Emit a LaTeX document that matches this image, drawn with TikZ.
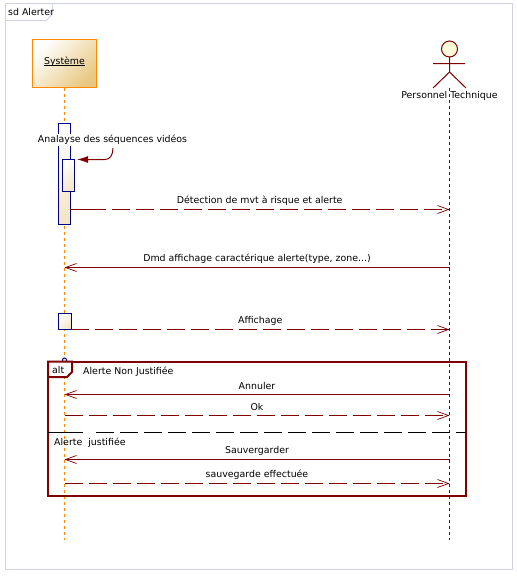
\documentclass[tikz,border=0pt]{standalone}
\usepackage{fontspec}
\setmainfont{DejaVu Sans}
\usepackage{tikz}
\usetikzlibrary{arrows.meta,calc}
\definecolor{msgred}{RGB}{128,0,0}
\definecolor{framelilac}{RGB}{208,208,232}
\definecolor{lifeorange}{RGB}{255,136,0}
\definecolor{actblue}{RGB}{0,0,128}
\definecolor{sandtan}{RGB}{232,200,130}
\tikzset{
  lbl/.style={font=\fontsize{9.4}{10}\selectfont, inner sep=0pt},
  msg/.style={draw=msgred, line width=1pt, -{Straight Barb[length=11pt,width=8pt,line width=.7pt]}},
  retmsg/.style={msg, dash pattern=on 18pt off 6pt},
  actbar/.style={draw=actblue, line width=1pt, top color=white, bottom color=sandtan!45, shading angle=45, minimum width=12pt, inner sep=0pt, outer sep=0pt},
}
\begin{document}
\begin{tikzpicture}[x=1pt, y=-1pt]
    \useasboundingbox (0,0) rectangle (517,576);
    % outer frame
    \draw[framelilac, line width=1pt] (5.5,3.5) rectangle (512.5,569.5);
    \draw[framelilac, line width=.8pt, fill=white] (5.5,3.5) -- (52.5,3.5) -- (52.5,14) -- (46,20.5) -- (5.5,20.5) -- cycle;
    \node[lbl, anchor=west] (sd) at (8,12) {sd Alerter};

    % lifelines
    \node[draw=lifeorange, line width=1pt, top color=white, bottom color=sandtan, shading angle=45, minimum width=64pt, minimum height=48pt, inner sep=0pt, outer sep=0pt, lbl] (sys) at (64.5,63.5) {\raisebox{-3pt}{\underline{\smash{Système}}}};
    \coordinate (sysend) at (64.5,540);
    \draw[lifeorange, line width=1pt, dash pattern=on 3pt off 3pt] (sys) -- (sysend);

    \node[circle, draw=msgred, line width=1pt, fill=yellow!15, minimum size=16pt, inner sep=0pt, outer sep=0pt] (head) at (449.5,49) {};
    \coordinate (armL) at (433,63.5); \coordinate (armR) at (465,63.5);
    \coordinate (hip) at (449.5,72); \coordinate (legL) at (433,88); \coordinate (legR) at (466,88);
    \draw[draw=msgred, line width=1pt] (head) -- (hip) -- (legL) (hip) -- (legR) (armL) -- (armR);
    \coordinate (techtop) at (449.5,88); \coordinate (techend) at (449.5,540);
    \draw[draw=msgred, line width=1pt, dash pattern=on 3pt off 3pt] (techtop) -- (techend);
    \node[lbl] (tech) at (449.5,96) {Personnel Technique};

    % activations
    \node[actbar, minimum height=101pt] (act1) at (64.5,173.5) {};
    \node[actbar, minimum height=32pt] (act2) at (68.5,175.5) {};
    \node[actbar, minimum height=16pt, minimum width=13pt] (act3) at (65,321.5) {};
    \node[actbar, minimum height=5pt, minimum width=4pt, rounded corners=2pt] (act4) at (64.5,360.5) {};

    % self message
    \node[lbl, fill=white, inner sep=1pt] (selflbl) at (112.5,140) {Analayse des séquences vidéos};
    \coordinate (selfstart) at (113,148); \coordinate (selfend) at (77,159.5);
    \draw[draw=msgred, line width=1pt, -{Latex[length=11pt,width=7pt]}] (selfstart) .. controls (113,155) and (110,159.5) .. (105,159.5) -- (selfend);

    % messages
    \coordinate (m1a) at (70,209.5); \coordinate (m1b) at (449.5,209.5); \coordinate (m1c) at (106,209.5);
    \draw[retmsg, dash phase=6pt] (m1a) -- node[lbl, above=3.5pt] {Détection de mvt à risque et alerte} (m1b);
    \draw[draw=msgred, line width=1pt] (m1a) -- (m1c);
    \coordinate (m2a) at (449.5,267.5); \coordinate (m2b) at (64.5,267.5);
    \draw[msg] (m2a) -- node[lbl, above=4pt] {Dmd affichage caractérique alerte(type, zone...)} (m2b);
    \coordinate (m3a) at (71,329.5); \coordinate (m3b) at (449.5,329.5);
    \draw[retmsg] (m3a) -- node[lbl, above=3.5pt] {Affichage} (m3b);

    % alt fragment
    \coordinate (altTL) at (48,361.5); \coordinate (altBR) at (466,495.5);
    \draw[draw=msgred, line width=2pt] (altTL) rectangle (altBR);
    \draw[draw=msgred, line width=2pt, fill=white] (48,361.5) -- (72,361.5) -- (72,372) -- (67,377) -- (48,377) -- cycle;
    \node[lbl, anchor=west] (alt) at (52,370) {alt};
    \node[lbl, anchor=west] (g1) at (83,371.5) {Alerte Non Justifiée};
    \coordinate (sepL) at (48,432.5); \coordinate (sepM) at (83,432.5); \coordinate (sepN) at (96,432.5); \coordinate (sepR) at (466,432.5);
    \draw[black, line width=1pt] (sepL) -- (sepM);
    \draw[black, line width=1pt, dash pattern=on 18pt off 6pt] (sepN) -- (sepR);
    \node[lbl, anchor=west] (g2) at (54,442.5) {Alerte\ \ justifiée};

    \coordinate (m4a) at (449.5,394.5); \coordinate (m4b) at (64.5,394.5);
    \draw[msg] (m4a) -- node[lbl, above=4pt] {Annuler} (m4b);
    \coordinate (m5a) at (64.5,415.5); \coordinate (m5b) at (449.5,415.5);
    \draw[retmsg] (m5a) -- node[lbl, above=4pt] {Ok} (m5b);
    \coordinate (m6a) at (449.5,459.5); \coordinate (m6b) at (64.5,459.5);
    \draw[msg] (m6a) -- node[lbl, above=4pt] {Sauvergarder} (m6b);
    \coordinate (m7a) at (64.5,483.5); \coordinate (m7b) at (449.5,483.5);
    \draw[retmsg] (m7a) -- node[lbl, above=4pt] {sauvegarde effectuée} (m7b);
\end{tikzpicture}
\end{document}
